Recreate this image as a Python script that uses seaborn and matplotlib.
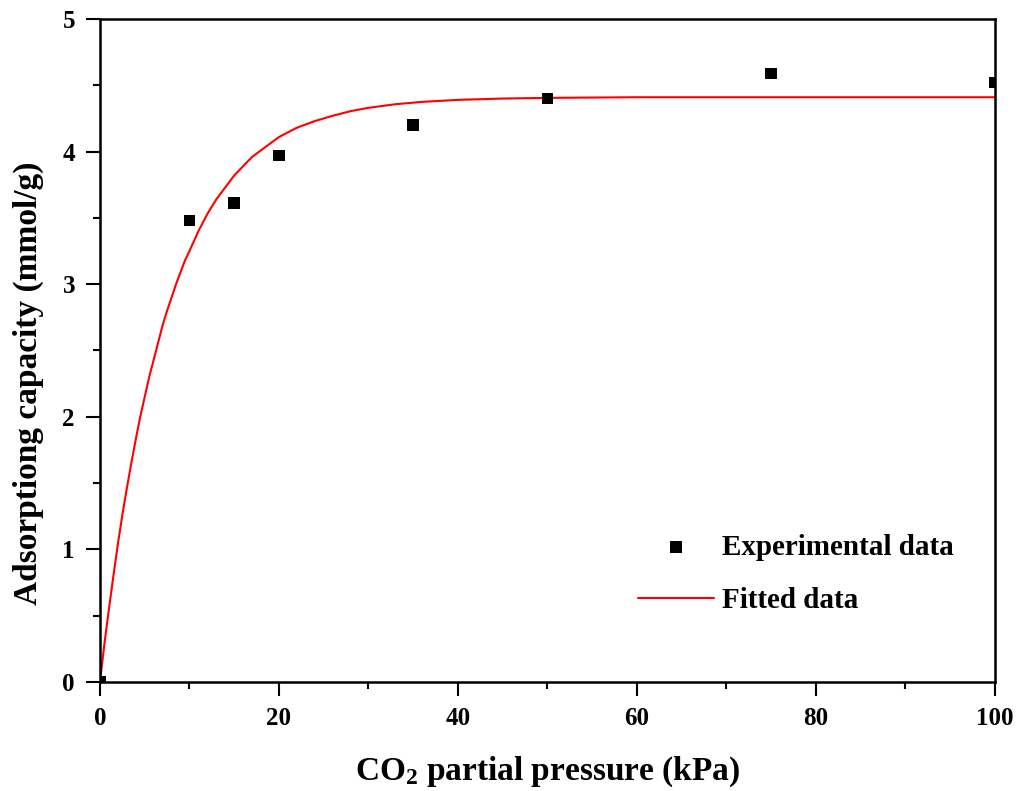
import numpy as np
import pandas as pd
import seaborn as sns
import matplotlib.pyplot as plt
from matplotlib.ticker import MultipleLocator

# experimental points (kPa, mmol/g)
exp_pressure = [0, 10, 15, 20, 35, 50, 75, 100]
exp_capacity = [0.0, 3.48, 3.61, 3.97, 4.20, 4.40, 4.59, 4.52]

# fitted curve
fit_pressure = [0, 0.5, 1, 1.5, 2, 2.5, 3, 3.5, 4, 4.5, 5, 5.5, 6, 6.5, 7,
                7.5, 8, 8.5, 9, 9.5, 10, 11, 12, 13, 14, 15, 16, 17, 18, 19,
                20, 22, 24, 26, 28, 30, 33, 36, 40, 45, 50, 60, 100]
fit_capacity = [0.0, 0.29, 0.55, 0.80, 1.04, 1.26, 1.46, 1.65, 1.83, 2.00,
                2.15, 2.30, 2.43, 2.56, 2.69, 2.80, 2.90, 3.00, 3.09, 3.18,
                3.25, 3.40, 3.53, 3.64, 3.73, 3.82, 3.89, 3.96, 4.01, 4.06,
                4.11, 4.18, 4.23, 4.27, 4.305, 4.33, 4.357, 4.375, 4.39, 4.40,
                4.405, 4.41, 4.41]

exp_df = pd.DataFrame({"p": exp_pressure, "q": exp_capacity})
fit_df = pd.DataFrame({"p": fit_pressure, "q": fit_capacity})

sns.set_theme(style="ticks")
plt.rcParams["font.family"] = ["Liberation Serif", "DejaVu Serif"]
plt.rcParams["font.weight"] = "bold"
plt.rcParams["text.color"] = "black"
plt.rcParams["axes.labelcolor"] = "black"
plt.rcParams["xtick.color"] = "black"
plt.rcParams["ytick.color"] = "black"
plt.rcParams["mathtext.fontset"] = "custom"
plt.rcParams["mathtext.rm"] = "Liberation Serif:bold"
plt.rcParams["mathtext.default"] = "rm"

fig = plt.figure(figsize=(10.18, 7.91), dpi=100)
ax = fig.add_axes([0.0982, 0.1378, 0.8792, 0.8382])

sns.scatterplot(data=exp_df, x="p", y="q", marker="s", s=70, color="black",
                edgecolor="none", label="Experimental data", ax=ax, zorder=3)
sns.lineplot(data=fit_df, x="p", y="q", color="red", linewidth=1.5,
             label="Fitted data", ax=ax, zorder=2)

ax.set_xlim(0, 100)
ax.set_ylim(0, 5)
ax.xaxis.set_major_locator(MultipleLocator(20))
ax.xaxis.set_minor_locator(MultipleLocator(10))
ax.yaxis.set_major_locator(MultipleLocator(1))
ax.yaxis.set_minor_locator(MultipleLocator(0.5))
ax.tick_params(which="major", direction="out", length=10, width=1.5,
               labelsize=18, pad=8)
ax.tick_params(which="minor", direction="out", length=5, width=1.5)
for lab in ax.get_xticklabels() + ax.get_yticklabels():
    lab.set_fontweight("bold")
for sp in ax.spines.values():
    sp.set_linewidth(1.8)
    sp.set_color("black")

ax.set_xlabel("CO$_2$ partial pressure (kPa)", fontsize=24, fontweight="bold",
              labelpad=18)
ax.set_ylabel("Adsorptiong capacity (mmol/g)", fontsize=24, fontweight="bold")
ax.yaxis.set_label_coords(-0.062, 0.451)

leg = ax.legend(loc="center left", bbox_to_anchor=(0.601, 0.163), frameon=False,
                borderpad=0, borderaxespad=0, handlelength=2.6,
                handletextpad=0.3, labelspacing=0.9,
                prop={"size": 21, "weight": "bold"})

fig.savefig("out.png", dpi=100)
